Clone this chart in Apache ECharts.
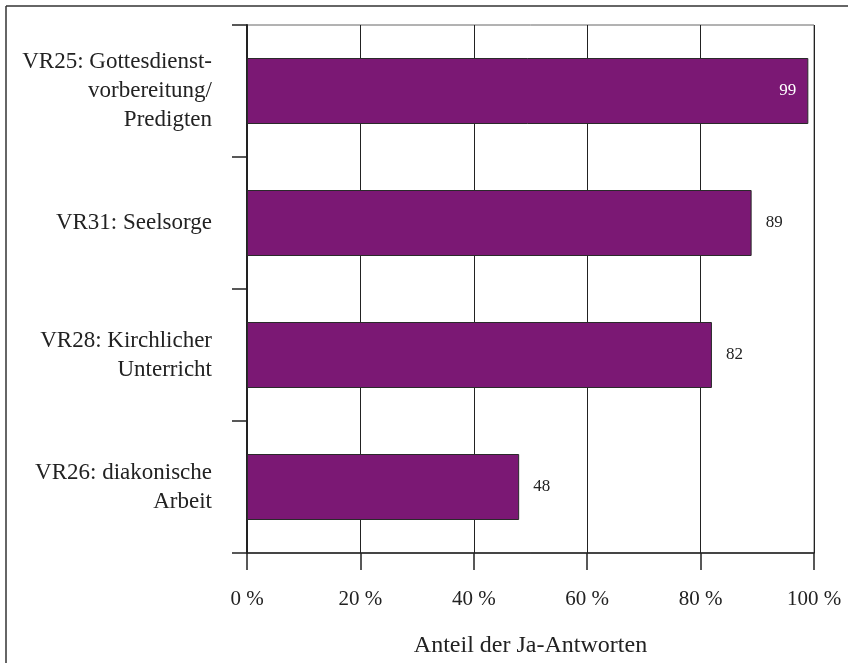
<!DOCTYPE html>
<html>
<head>
<meta charset="utf-8">
<script src="https://cdn.jsdelivr.net/npm/echarts@6/dist/echarts.min.js"></script>
<style>
  html, body { margin: 0; padding: 0; background: #fff; }
  #chart { width: 848px; height: 663px; }
</style>
</head>
<body>
<div id="chart"></div>
<script>
// Categories, top to bottom
const categories = [
  'VR25: Gottesdienst-\nvorbereitung/\nPredigten',
  'VR31: Seelsorge',
  'VR28: Kirchlicher\nUnterricht',
  'VR26: diakonische\nArbeit'
];
// Share of "yes" answers, in percent
const values = [99, 89, 82, 48];
// Axis settings
const xTicks = { min: 0, max: 100, interval: 20 };
const xAxisTitle = 'Anteil der Ja-Antworten';

const FONT = '"Liberation Serif", "Times New Roman", serif';
const BAR = '#7b1874';

const seriesData = values.map(function (v) {
  const inside = v >= 95;
  return {
    value: v,
    label: {
      position: inside ? 'insideRight' : 'right',
      distance: inside ? 12 : 14,
      color: inside ? '#ffffff' : '#222222'
    }
  };
});

const chart = echarts.init(document.getElementById('chart'), null, { renderer: 'canvas' });
chart.setOption({
  animation: false,
  backgroundColor: '#ffffff',
  graphic: [
    { type: 'line', shape: { x1: 6, y1: 6, x2: 848, y2: 6 }, style: { stroke: '#333', lineWidth: 1.5 } },
    { type: 'line', shape: { x1: 6, y1: 6, x2: 6, y2: 663 }, style: { stroke: '#333', lineWidth: 1.5 } }
  ],
  grid: {
    left: 247, right: 34, top: 25, bottom: 108,
    show: true, borderColor: '#666', borderWidth: 1, backgroundColor: 'transparent'
  },
  xAxis: {
    type: 'value',
    min: xTicks.min, max: xTicks.max, interval: xTicks.interval,
    name: xAxisTitle,
    nameLocation: 'middle',
    nameGap: 81,
    nameTextStyle: { fontFamily: FONT, fontSize: 24, color: '#222' },
    axisLine: { show: true, lineStyle: { color: '#222', width: 1.5 } },
    axisTick: { show: true, length: 17, lineStyle: { color: '#222', width: 1.5 } },
    axisLabel: {
      margin: 36,
      fontFamily: FONT, fontSize: 21, color: '#222',
      formatter: function (v) { return v + ' %'; }
    },
    splitLine: { show: true, lineStyle: { color: '#222', width: 1 } }
  },
  yAxis: {
    type: 'category',
    data: categories,
    inverse: true,
    axisLine: { show: true, lineStyle: { color: '#222', width: 2 } },
    axisTick: { show: true, length: 15, lineStyle: { color: '#222', width: 1.5 } },
    axisLabel: {
      margin: 35,
      fontFamily: FONT, fontSize: 23, lineHeight: 29, color: '#222',
      align: 'right'
    },
    splitLine: { show: false }
  },
  series: [{
    type: 'bar',
    data: seriesData,
    barWidth: '50%',
    itemStyle: { color: BAR, borderColor: '#2a2a2a', borderWidth: 1 },
    label: {
      show: true,
      fontFamily: FONT, fontSize: 17
    }
  }]
});
</script>
</body>
</html>
